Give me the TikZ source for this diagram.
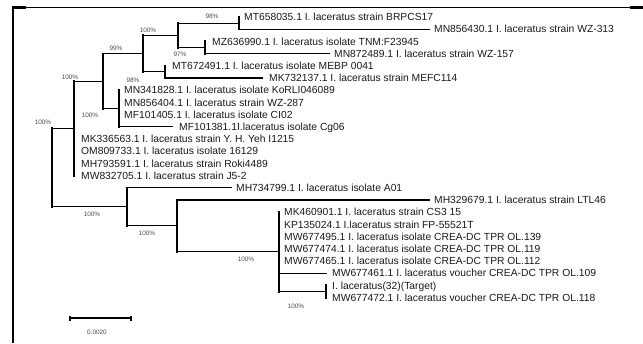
\documentclass[tikz,border=0pt]{standalone}
\usepackage{fontspec}
\setmainfont{Liberation Sans}
\newcommand{\treeedge}[2]{\draw[vline] (#1) -- (#1|-#2); \draw[hline] (#1|-#2) -- (#2);}
\begin{document}
\begin{tikzpicture}[x=1pt,y=-1pt,
  tip/.style={anchor=west, inner sep=0pt, text height=7.4pt, text depth=0pt, text=black!90, font=\fontsize{10.3}{12}\selectfont},
  boot/.style={inner sep=0pt, text=black!70, font=\fontsize{6.4}{7}\selectfont},
  vline/.style={line width=2pt, line cap=rect},
  hline/.style={line width=1.1pt}]
\useasboundingbox (0,0) rectangle (643,343);
% frame
\draw[line width=1.3pt] (12,7.5) -- (643,7.5);
\draw[line width=2.6pt] (12,7.5) -- (26,7.5);
\draw[line width=2.6pt] (630,7.5) -- (643,7.5);
\draw[line width=2pt] (12.5,6.8) -- (12.5,343);
% internal nodes
\coordinate (root) at (52,167.6);
\coordinate (H) at (74,128.3);
\coordinate (G) at (103,81.05);
\coordinate (E) at (143,53.6);
\coordinate (C) at (178,35.3);
\coordinate (A) at (239,23.1);
\coordinate (B) at (205,47.5);
\coordinate (D) at (165,71.9);
\coordinate (F) at (119,108.5);
\coordinate (I) at (127,206.9);
\coordinate (J) at (177,225.9);
\coordinate (K) at (279,251.85);
\coordinate (L) at (326,291.5);
% tip ends
\coordinate (e0) at (239,17.0);
\coordinate (e1) at (430,29.2);
\coordinate (e2) at (205,41.4);
\coordinate (e3) at (330,53.6);
\coordinate (e4) at (165,65.8);
\coordinate (e5) at (263,78.0);
\coordinate (e6) at (119,90.2);
\coordinate (e7) at (119,102.4);
\coordinate (e8) at (119,114.6);
\coordinate (e9) at (173,126.8);
\coordinate (e10) at (74,139.0);
\coordinate (e11) at (74,151.2);
\coordinate (e12) at (74,163.4);
\coordinate (e13) at (74,175.6);
\coordinate (e14) at (232,187.8);
\coordinate (e15) at (430,200.0);
\coordinate (e16) at (279,212.2);
\coordinate (e17) at (279,224.4);
\coordinate (e18) at (279,236.6);
\coordinate (e19) at (279,248.8);
\coordinate (e20) at (279,261.0);
\coordinate (e21) at (327,273.2);
\coordinate (e22) at (326,285.4);
\coordinate (e23) at (326,297.6);
% edges
\treeedge{root}{H}\treeedge{root}{I}
\treeedge{H}{G}\treeedge{H}{e10}\treeedge{H}{e11}\treeedge{H}{e12}\treeedge{H}{e13}
\treeedge{G}{E}\treeedge{G}{F}
\treeedge{E}{C}\treeedge{E}{D}
\treeedge{C}{A}\treeedge{C}{B}
\treeedge{A}{e0}\treeedge{A}{e1}
\treeedge{B}{e2}\treeedge{B}{e3}
\treeedge{D}{e4}\treeedge{D}{e5}
\treeedge{F}{e6}\treeedge{F}{e7}\treeedge{F}{e8}\treeedge{F}{e9}
\treeedge{I}{e14}\treeedge{I}{J}
\treeedge{J}{e15}\treeedge{J}{K}
\treeedge{K}{e16}\treeedge{K}{e17}\treeedge{K}{e18}\treeedge{K}{e19}\treeedge{K}{e20}\treeedge{K}{e21}\treeedge{K}{L}
\treeedge{L}{e22}\treeedge{L}{e23}
% tip labels
\node[tip] (n0) at (244,17.0) {MT658035.1 I. laceratus strain BRPCS17};
\node[tip] (n1) at (434,29.2) {MN856430.1 I. laceratus strain WZ-313};
\node[tip] (n2) at (212,41.4) {MZ636990.1 I. laceratus isolate TNM:F23945};
\node[tip] (n3) at (334,53.6) {MN872489.1 I. laceratus strain WZ-157};
\node[tip] (n4) at (172,65.8) {MT672491.1 I. laceratus isolate MEBP 0041};
\node[tip] (n5) at (269,78.0) {MK732137.1 I. laceratus strain MEFC114};
\node[tip] (n6) at (124,90.2) {MN341828.1 I. laceratus isolate KoRLI046089};
\node[tip] (n7) at (124,102.4) {MN856404.1 I. laceratus strain WZ-287};
\node[tip] (n8) at (124,114.6) {MF101405.1 I. laceratus isolate CI02};
\node[tip] (n9) at (179,126.8) {MF101381.1I.laceratus isolate Cg06};
\node[tip] (n10) at (81,139.0) {MK336563.1 I. laceratus strain Y. H. Yeh I1215};
\node[tip] (n11) at (81,151.2) {OM809733.1 I. laceratus isolate 16129};
\node[tip] (n12) at (81,163.4) {MH793591.1 I. laceratus strain Roki4489};
\node[tip] (n13) at (81,175.6) {MW832705.1 I. laceratus strain J5-2};
\node[tip] (n14) at (236,187.8) {MH734799.1 I. laceratus isolate A01};
\node[tip] (n15) at (434,200.0) {MH329679.1 I. laceratus strain LTL46};
\node[tip] (n16) at (284,212.2) {MK460901.1 I. laceratus strain CS3 15};
\node[tip] (n17) at (284,224.4) {KP135024.1 I.laceratus strain FP-55521T};
\node[tip] (n18) at (284,236.6) {MW677495.1 I. laceratus isolate CREA-DC TPR OL.139};
\node[tip] (n19) at (284,248.8) {MW677474.1 I. laceratus isolate CREA-DC TPR OL.119};
\node[tip] (n20) at (284,261.0) {MW677465.1 I. laceratus isolate CREA-DC TPR OL.112};
\node[tip] (n21) at (332,273.2) {MW677461.1 I. laceratus voucher CREA-DC TPR OL.109};
\node[tip] (n22) at (332,285.4) {I. laceratus(32)(Target)};
\node[tip] (n23) at (332,297.6) {MW677472.1 I. laceratus voucher CREA-DC TPR OL.118};
% bootstrap values
\node[boot] (bA) at (212,16) {98\%};
\node[boot] (bC) at (148,30) {100\%};
\node[boot] (bE) at (116,48) {99\%};
\node[boot] (bB) at (180,54) {97\%};
\node[boot] (bD) at (133,80) {98\%};
\node[boot] (bG) at (70,77) {100\%};
\node[boot] (bF) at (90,115) {100\%};
\node[boot] (bH) at (43,122) {100\%};
\node[boot] (bI) at (92,214) {100\%};
\node[boot] (bJ) at (147,233) {100\%};
\node[boot] (bK) at (246,259) {100\%};
\node[boot] (bL) at (296,306) {100\%};
% scale bar
\coordinate (s1) at (70,318);
\coordinate (s2) at (131,318);
\draw[line width=1.2pt] (s1) -- (s2);
\draw[line width=1.8pt] ([yshift=2.5pt]s1) -- ([yshift=-2.5pt]s1);
\draw[line width=1.8pt] ([yshift=2.5pt]s2) -- ([yshift=-2.5pt]s2);
\node[boot] (sl) at (97,332) {0.0020};
\end{tikzpicture}
\end{document}
